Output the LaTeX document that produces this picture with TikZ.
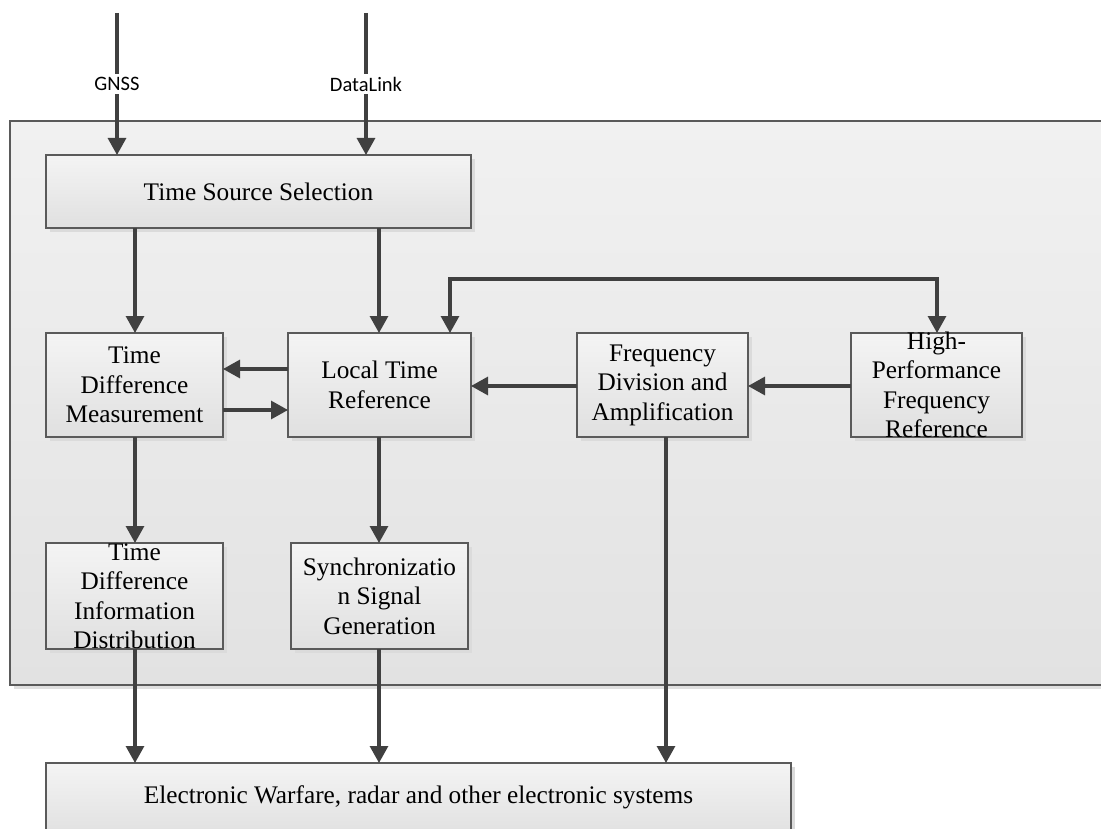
\documentclass[tikz,border=0pt]{standalone}
\usepackage{fontspec}
\setmainfont{Liberation Serif}
\newfontfamily\labelfont{Carlito}
\usetikzlibrary{arrows.meta,shadows}
\definecolor{linec}{HTML}{404040}
\definecolor{boxline}{HTML}{5A5A5A}
\definecolor{btop}{HTML}{F4F4F4}
\definecolor{bbot}{HTML}{E0E0E0}
\definecolor{ftop}{HTML}{F1F1F1}
\definecolor{fbot}{HTML}{E2E2E2}
\begin{document}
\begin{tikzpicture}[x=1pt,y=-1pt,
  blockbox/.style={draw=boxline,line width=1.4pt,top color=btop,bottom color=bbot,
    inner sep=0pt,outer sep=0pt,
    drop shadow={shadow xshift=4pt,shadow yshift=-4pt,fill=black!14,opacity=1}},
  blocktext/.style={align=center,inner sep=0pt,font=\fontsize{25.3}{29.5}\selectfont},
  arr/.style={draw=linec,line width=3.1pt,-{Triangle[length=17pt,width=18pt]}},
  darr/.style={draw=linec,line width=3.1pt,{Triangle[length=17pt,width=18pt]}-{Triangle[length=17pt,width=18pt]}},
  srclabel/.style={fill=white,inner sep=3pt,font=\labelfont\fontsize{20.5}{23}\selectfont}
]
\useasboundingbox (0,0) rectangle (1101,829);
% outer frame
\path[draw=boxline,line width=1.4pt,top color=ftop,bottom color=fbot,
  drop shadow={shadow xshift=4pt,shadow yshift=-4pt,fill=black!12,opacity=1}]
  (10,121) rectangle (1130,685);

% blocks
\node[blockbox,minimum width=425pt,minimum height=73pt] (tss) at (258.5,191.5) {};
\node[blocktext] (tsst) at (tss) {Time Source Selection};

\node[blockbox,minimum width=177pt,minimum height=104pt] (tdm) at (134.5,385) {};
\node[blocktext] (tdmt) at (tdm) {Time\\Difference\\Measurement};

\node[blockbox,minimum width=183pt,minimum height=104pt] (ltr) at (379.5,385) {};
\node[blocktext] (ltrt) at (ltr) {Local Time\\Reference};

\node[blockbox,minimum width=171pt,minimum height=104pt] (fda) at (662.5,385) {};
\node[blocktext] (fdat) at (fda) {Frequency\\Division and\\Amplification};

\node[blockbox,minimum width=171pt,minimum height=104pt] (hp) at (936.5,385) {};
\node[blocktext] (hpt) at (hp) {High-\\Performance\\Frequency\\Reference};

\node[blockbox,minimum width=177pt,minimum height=106pt] (tdid) at (134.5,596) {};
\node[blocktext] (tdidt) at (tdid) {Time\\Difference\\Information\\Distribution};

\node[blockbox,minimum width=177pt,minimum height=106pt] (sync) at (379.5,596) {};
\node[blocktext] (synct) at (sync) {Synchronizatio\\n Signal\\Generation};

\node[blockbox,minimum width=745pt,minimum height=74pt] (out) at (418.5,800) {};
\node[blocktext] (outt) at (418.5,797) {Electronic Warfare, radar and other electronic systems};

% helper coordinates
\coordinate (xg) at (117,13);
\coordinate (xd) at (366,13);
\coordinate (xa) at (135,0);
\coordinate (xb) at (379,0);
\coordinate (xc) at (666,0);
\coordinate (xl) at (450,279);
\coordinate (xh) at (937,279);
\coordinate (ya) at (0,369);
\coordinate (yb) at (0,410);
\coordinate (yc) at (0,386);

% inputs
\draw[arr] (xg) -- (tss.north -| xg);
\draw[arr] (xd) -- (tss.north -| xd);
\node[srclabel] (gnss) at (117,84) {GNSS};
\node[srclabel] (dlink) at (366,84) {DataLink};

% vertical flows
\draw[arr] (tss.south -| xa) -- (tdm.north -| xa);
\draw[arr] (tss.south -| xb) -- (ltr.north -| xb);
\draw[arr] (tdm.south -| xa) -- (tdid.north -| xa);
\draw[arr] (ltr.south -| xb) -- (sync.north -| xb);
\draw[arr] (tdid.south -| xa) -- (out.north -| xa);
\draw[arr] (sync.south -| xb) -- (out.north -| xb);
\draw[arr] (fda.south -| xc) -- (out.north -| xc);

% horizontal flows
\draw[arr] (ltr.west |- ya) -- (tdm.east |- ya);
\draw[arr] (tdm.east |- yb) -- (ltr.west |- yb);
\draw[arr] (fda.west |- yc) -- (ltr.east |- yc);
\draw[arr] (hp.west |- yc) -- (fda.east |- yc);

% loop
\draw[darr] (ltr.north -| xl) -- (xl) -- (xh) -- (hp.north -| xh);
\end{tikzpicture}
\end{document}
